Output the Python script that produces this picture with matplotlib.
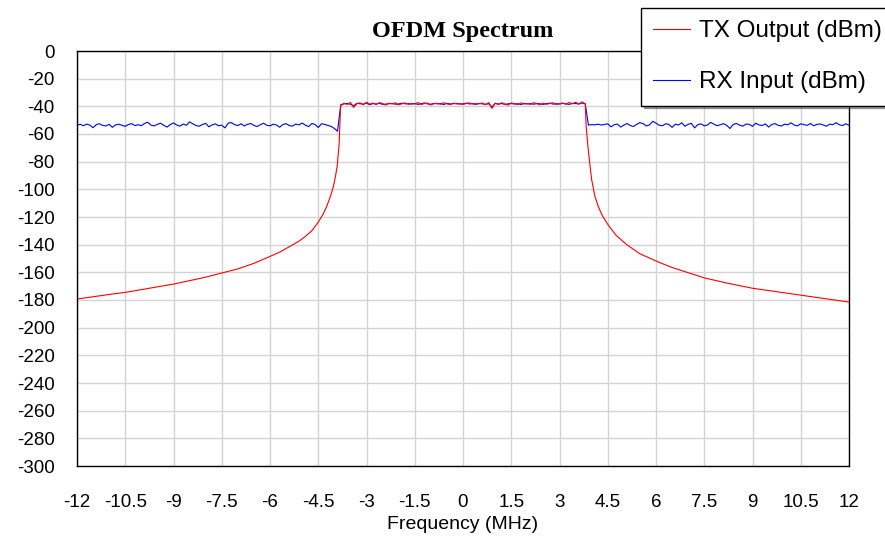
import numpy as np
import matplotlib.pyplot as plt

# RX noise floor outside the band (dBm), 0.1 MHz steps
rx_left = [-53.5, -53.0, -54.0, -52.8, -53.6, -55.5, -53.2, -52.6, -53.8, -54.2,
           -53.0, -55.2, -53.4, -52.9, -53.7, -54.5, -53.1, -52.5, -53.9, -53.3,
           -54.0, -52.4, -51.5, -53.6, -54.1, -53.0, -52.2, -53.8, -55.0, -53.2,
           -52.0, -53.5, -54.3, -52.8, -53.7, -51.2, -52.6, -53.9, -54.4, -53.1,
           -52.3, -54.8, -53.4, -52.7, -54.0, -53.6, -55.6, -52.1, -51.8, -53.2,
           -53.9, -52.6, -54.2, -53.0, -52.4, -53.8, -54.6, -53.3, -52.2, -53.7,
           -54.1, -52.9, -53.5, -55.1, -53.2, -52.5, -53.9, -54.3, -52.8, -53.4,
           -52.1, -53.6, -54.7, -52.4, -53.1, -55.3, -52.6, -53.0, -53.8, -54.5,
           -56.0, -58.0]
rx_right = [-53.6, -53.2, -53.4, -52.9, -53.5, -53.1, -52.6, -54.8, -53.3, -52.8,
            -55.0, -53.6, -52.4, -53.9, -54.6, -53.0, -51.8, -52.5, -54.2, -53.4,
            -50.8, -52.2, -53.7, -54.0, -52.6, -53.1, -55.2, -52.9, -53.5, -51.9,
            -54.4, -53.0, -52.3, -55.6, -53.2, -52.7, -54.1, -53.5, -51.6, -52.9,
            -54.0, -53.3, -52.5, -53.8, -56.0, -53.1, -52.4, -53.6, -54.3, -52.8,
            -53.0, -54.5, -52.2, -53.4, -53.9, -52.7, -55.0, -53.1, -52.5, -53.7,
            -54.2, -52.9, -53.3, -51.9, -53.6, -54.1, -52.6, -53.2, -53.8, -52.4,
            -54.0, -53.1, -52.7, -53.5, -54.4, -52.9, -53.2, -51.8, -53.4, -53.9,
            -52.6, -53.7]

# in-band, -3.8 .. 3.8 MHz
tx_band = [-39.5, -37.8, -38.6, -37.2, -40.8, -38.1, -37.5, -38.9, -37.0, -38.4,
           -37.6, -38.8, -37.3, -38.0, -39.1, -37.7, -38.3, -37.4, -38.9, -38.2,
           -37.5, -38.6, -37.9, -38.4, -37.2, -38.7, -38.0, -37.6, -39.0, -38.1,
           -37.8, -38.5, -37.4, -38.2, -38.8, -37.7, -38.3, -37.9, -38.6, -38.0,
           -37.5, -38.4, -38.0, -38.2, -37.6, -38.9, -37.3, -41.5, -37.8, -38.7,
           -37.4, -38.3, -39.2, -37.6, -38.0, -38.8, -37.5, -38.4, -37.9, -38.6,
           -37.3, -38.2, -38.9, -37.7, -38.5, -38.0, -37.4, -38.7, -38.1, -37.6,
           -38.5, -37.2, -38.3, -37.0, -38.4, -36.8, -38.2]
rx_band = [-38.8, -38.2, -37.9, -38.5, -39.6, -37.8, -38.1, -38.4, -37.6, -38.9,
           -38.0, -38.3, -37.8, -38.6, -38.4, -38.1, -37.9, -38.5, -38.3, -37.7,
           -38.2, -38.0, -38.4, -37.9, -38.6, -38.1, -37.6, -38.3, -38.5, -37.9,
           -38.2, -38.0, -38.7, -37.8, -38.3, -38.1, -37.9, -38.4, -38.2, -37.7,
           -38.3, -38.0, -38.6, -37.9, -38.2, -38.5, -38.1, -40.5, -37.8, -38.3,
           -38.0, -38.6, -38.2, -37.9, -38.4, -38.1, -38.7, -37.8, -38.3, -38.0,
           -38.5, -37.9, -38.2, -38.6, -38.0, -37.7, -38.4, -38.1, -38.3, -37.9,
           -38.2, -38.6, -37.8, -38.0, -38.3, -37.6, -38.1]

# TX skirts
skirt_l_f = [-12, -11, -10.5, -10, -9, -8, -7.5, -7, -6.5, -6, -5.7, -5.4, -5.1,
             -4.9, -4.7, -4.5, -4.35, -4.24, -4.12, -4.03, -3.96, -3.91, -3.85, -3.81]
skirt_l_db = [-179.3, -176, -174.5, -172.5, -168.5, -163.5, -160.5, -157.5, -153.5,
              -148.5, -145.4, -141.5, -137.5, -134, -130, -123.7, -118, -112.5, -105,
              -98, -90, -83, -67, -42]
skirt_r_f = [3.83, 3.88, 3.93, 4.0, 4.1, 4.2, 4.33, 4.52, 4.75, 5.09, 5.5, 6.12, 6.5,
             7.5, 8.25, 9, 10.5, 12]
skirt_r_db = [-55, -68, -79, -93, -105, -112, -119, -126, -133, -140, -146.6, -153,
              -156.5, -164, -168, -171.5, -176.5, -181.5]

xticks = [-12, -10.5, -9, -7.5, -6, -4.5, -3, -1.5, 0, 1.5, 3, 4.5, 6, 7.5, 9, 10.5, 12]

f_left = np.linspace(-12, -3.9, len(rx_left))
f_band = np.linspace(-3.8, 3.8, len(tx_band))
f_right = np.linspace(3.9, 12, len(rx_right))

rx_f = np.concatenate([f_left, f_band, f_right])
rx = np.concatenate([rx_left, rx_band, rx_right])
tx_f = np.concatenate([skirt_l_f, f_band, skirt_r_f])
tx = np.concatenate([skirt_l_db, tx_band, skirt_r_db])

plt.rcParams['font.family'] = ['Liberation Sans', 'DejaVu Sans']
plt.rcParams['axes.unicode_minus'] = False

fig = plt.figure(figsize=(8.85, 5.37), dpi=100, facecolor='w')
ax = fig.add_axes([77/885, 71/537, 772/885, 415/537])

l2, = ax.plot(rx_f, rx, color='#0000ff', lw=0.8, label='RX Input (dBm)')
l1, = ax.plot(tx_f, tx, color='#ff0000', lw=0.8, label='TX Output (dBm)')

ax.set_xlim(-12, 12)
ax.set_ylim(-300, 0)
ax.set_xticks(xticks)
ax.set_xticklabels([('%g' % t) for t in xticks])
ax.set_yticks(np.arange(-300, 1, 20))
ax.grid(True, color='#d3d3d3', lw=1)
ax.set_axisbelow(True)
ax.tick_params(length=0, labelsize=13.5)
ax.tick_params(axis='x', pad=20)
ax.tick_params(axis='y', pad=16)
for s in ax.spines.values():
    s.set_color('black')
    s.set_linewidth(1)

ax.set_xlabel('Frequency (MHz)', fontsize=14, labelpad=4)
ax.set_title('OFDM Spectrum', family='Liberation Serif', fontweight='bold',
             fontsize=17.5, pad=10, x=0.5)

leg = fig.legend(handles=[l1, l2], loc='upper left', bbox_to_anchor=(641/885, 1 - 8/537),
                 fontsize=17.5, frameon=True, fancybox=False, shadow=True,
                 handlelength=1.5, labelspacing=1.2, borderpad=0.5, handletextpad=0.4,
                 borderaxespad=0)
leg.get_frame().set_edgecolor('black')
leg.get_frame().set_linewidth(1)
leg.get_frame().set_alpha(1)

fig.savefig('out.png', dpi=100)
